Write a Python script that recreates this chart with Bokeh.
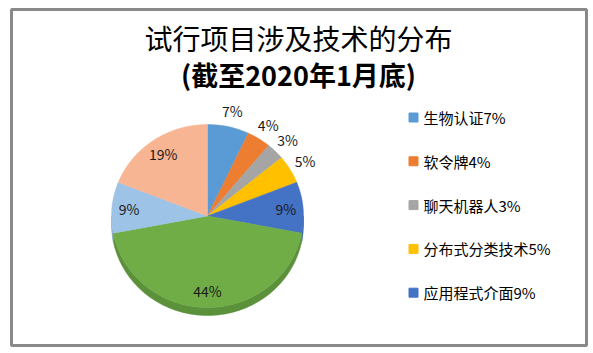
import numpy as np
from bokeh.plotting import figure
from bokeh.models import Range1d, ColumnDataSource
from bokeh.core.properties import value
from bokeh.embed import file_html
from bokeh.resources import INLINE

# ---- data ----
title_line1 = "试行项目涉及技术的分布"
title_line2 = "(截至2020年1月底)"
categories = ["生物认证", "软令牌", "聊天机器人", "分布式分类技术", "应用程式介面", "", "", ""]
values = [7, 4, 3, 5, 9, 44, 9, 19]
colors = ["#5B9BD5", "#ED7D31", "#A5A5A5", "#FFC000", "#4472C4", "#70AD47", "#9DC3E6", "#F8B593"]
side_colors = ["#4A82B5", "#C9692A", "#8C8C8C", "#D9A300", "#3A61A7", "#5A913A", "#86A6C4", "#D39A7D"]
legend_count = 5

FONT = "Noto Sans CJK SC"
W, H = 593, 353

p = figure(width=W, height=H, x_range=Range1d(0, W), y_range=Range1d(H, 0),
           output_backend="svg", toolbar_location=None, min_border=0,
           x_axis_type=None, y_axis_type=None)
p.outline_line_color = None
p.background_fill_color = "white"
p.border_fill_color = "white"

# chart border
p.quad(left=11, right=586, top=9, bottom=345, fill_color=None,
       line_color="#898989", line_width=3)

# titles
p.text(x=[298], y=[37], text=[title_line1], text_font=value(FONT),
       text_font_size="28px", text_align="center", text_baseline="middle",
       text_color="#000000")
p.text(x=[298], y=[74], text=[title_line2], text_font=value(FONT),
       text_font_size="27px", text_font_style="bold", text_align="center",
       text_baseline="middle", text_color="#000000")

# pie geometry (tilted pie)
cx, cy, rx, ry, depth = 207.0, 215.5, 96.0, 91.5, 8.0
total = float(sum(values))
cum = np.concatenate([[0.0], np.cumsum(values)]) / total * 2 * np.pi


def arc(a0, a1, n=80):
    t = np.linspace(a0, a1, max(int(n * (a1 - a0) / (2 * np.pi)) + 3, 3))
    return cx + rx * np.sin(t), cy - ry * np.cos(t)


# sides
sx, sy, sc = [], [], []
for i in range(len(values)):
    a0, a1 = max(cum[i], np.pi / 2), min(cum[i + 1], 3 * np.pi / 2)
    if a1 > a0:
        ax, ay = arc(a0, a1)
        sx.append(list(ax) + list(ax[::-1]))
        sy.append(list(ay) + list((ay + depth)[::-1]))
        sc.append(side_colors[i])
p.patches(xs=sx, ys=sy, fill_color=sc, line_color=sc, line_width=0.5)

# top faces
tx, ty = [], []
for i in range(len(values)):
    ax, ay = arc(cum[i], cum[i + 1])
    tx.append([cx] + list(ax))
    ty.append([cy] + list(ay))
p.patches(xs=tx, ys=ty, fill_color=colors, line_color=colors, line_width=0.5)

# data labels
lx, ly, lt = [], [], []
for i, v in enumerate(values):
    mid = (cum[i] + cum[i + 1]) / 2
    r = 1.18 if v <= 7 else 0.82
    lx.append(cx + r * rx * np.sin(mid))
    ly.append(cy - r * ry * np.cos(mid))
    lt.append(f"{v}%")
p.text(x=lx, y=ly, text=lt, text_font=value(FONT), text_font_size="14px",
       text_align="center", text_baseline="middle", text_color="#1a1a1a")

# legend
ly0, step = 117.0, 43.8
for i in range(legend_count):
    yy = ly0 + i * step
    p.rect(x=[413], y=[yy], width=9, height=9, fill_color=colors[i],
           line_color=colors[i])
    p.text(x=[423], y=[yy], text=[f"{categories[i]}{values[i]}%"],
           text_font=value(FONT), text_font_size="15px", text_align="left",
           text_baseline="middle", text_color="#000000")

open("out.html", "w").write(file_html(p, INLINE))
